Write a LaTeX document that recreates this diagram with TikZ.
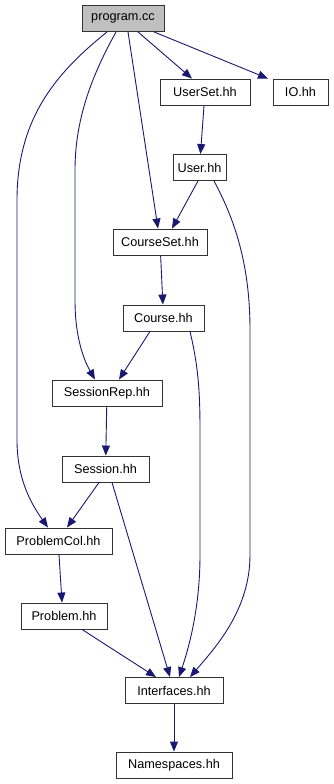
\documentclass[tikz,border=0pt]{standalone}
\usepackage{fontspec}
\setmainfont{Liberation Sans}
\usetikzlibrary{arrows.meta}
\definecolor{edgeblue}{HTML}{191970}
\definecolor{rootgray}{HTML}{BFBFBF}
\begin{document}
\begin{tikzpicture}[x=1pt,y=-1pt,
  file/.style={draw=black!80,line width=0.9pt,fill=white,minimum height=26pt,
    inner sep=0pt,font=\fontsize{12.7}{14}\selectfont},
  root/.style={file,fill=rootgray},
  dep/.style={edgeblue,line width=0.9pt,-{Triangle[length=10pt,width=8pt]}}]
\useasboundingbox (0,0) rectangle (333,784);
% header files
\node[root,minimum width=82pt]  (prog)  at (123,18.5) {program.cc};
\node[file,minimum width=90pt]  (uset)  at (205,92)   {UserSet.hh};
\node[file,minimum width=55pt]  (io)    at (300.5,92) {IO.hh};
\node[file,minimum width=53pt]  (user)  at (199.5,167.5) {User.hh};
\node[file,minimum width=94pt]  (cset)  at (160,242)  {CourseSet.hh};
\node[file,minimum width=81pt]  (course) at (163.5,318) {Course.hh};
\node[file,minimum width=110pt] (srep)  at (107,393)  {SessionRep.hh};
\node[file,minimum width=87pt]  (sess)  at (105.5,469) {Session.hh};
\node[file,minimum width=107pt] (pcol)  at (58.5,541) {ProblemCol.hh};
\node[file,minimum width=86pt]  (prob)  at (64,616)   {Problem.hh};
\node[file,minimum width=98pt]  (intf)  at (174,690.5) {Interfaces.hh};
\node[file,minimum width=116pt] (nsp)   at (174,765)  {Namespaces.hh};
% include edges
\draw[dep] (prog.south -| 138,0) -- (uset.north -| 192,0);
\draw[dep] (prog.south -| 154,0) -- (io.north -| 268,0);
\draw[dep] (prog.south -| 128,0) -- (cset.north -| 158,0);
\draw[dep] (prog.south -| 116,0) .. controls (95,70) and (75,115) .. (75,170)
  -- (75,300) .. controls (75,340) and (85,362) .. (srep.north -| 95,0);
\draw[dep] (prog.south -| 107,0) .. controls (60,70) and (17,115) .. (17,200)
  -- (17,440) .. controls (17,480) and (32,505) .. (pcol.north -| 48,0);
\draw[dep] (uset) -- (user);
\draw[dep] (user.south -| 198,0) -- (cset.north -| 172,0);
\draw[dep] (user.south -| 214,0) .. controls (235,220) and (250,265) .. (250,330)
  -- (250,555) .. controls (250,610) and (215,648) .. (intf.north -| 190,0);
\draw[dep] (cset) -- (course);
\draw[dep] (course.south -| 150,0) -- (srep.north -| 119,0);
\draw[dep] (course.south -| 190,0) .. controls (198,365) and (200,390) .. (200,430)
  -- (200,555) .. controls (200,610) and (188,650) .. (intf.north -| 179,0);
\draw[dep] (srep) -- (sess);
\draw[dep] (sess.south -| 99,0) -- (pcol.north -| 67,0);
\draw[dep] (sess.south -| 112,0) -- (intf.north -| 170,0);
\draw[dep] (pcol.south -| 59,0) -- (prob.north -| 62,0);
\draw[dep] (prob.south -| 82,0) -- (intf.north -| 156,0);
\draw[dep] (intf) -- (nsp);
\end{tikzpicture}
\end{document}
